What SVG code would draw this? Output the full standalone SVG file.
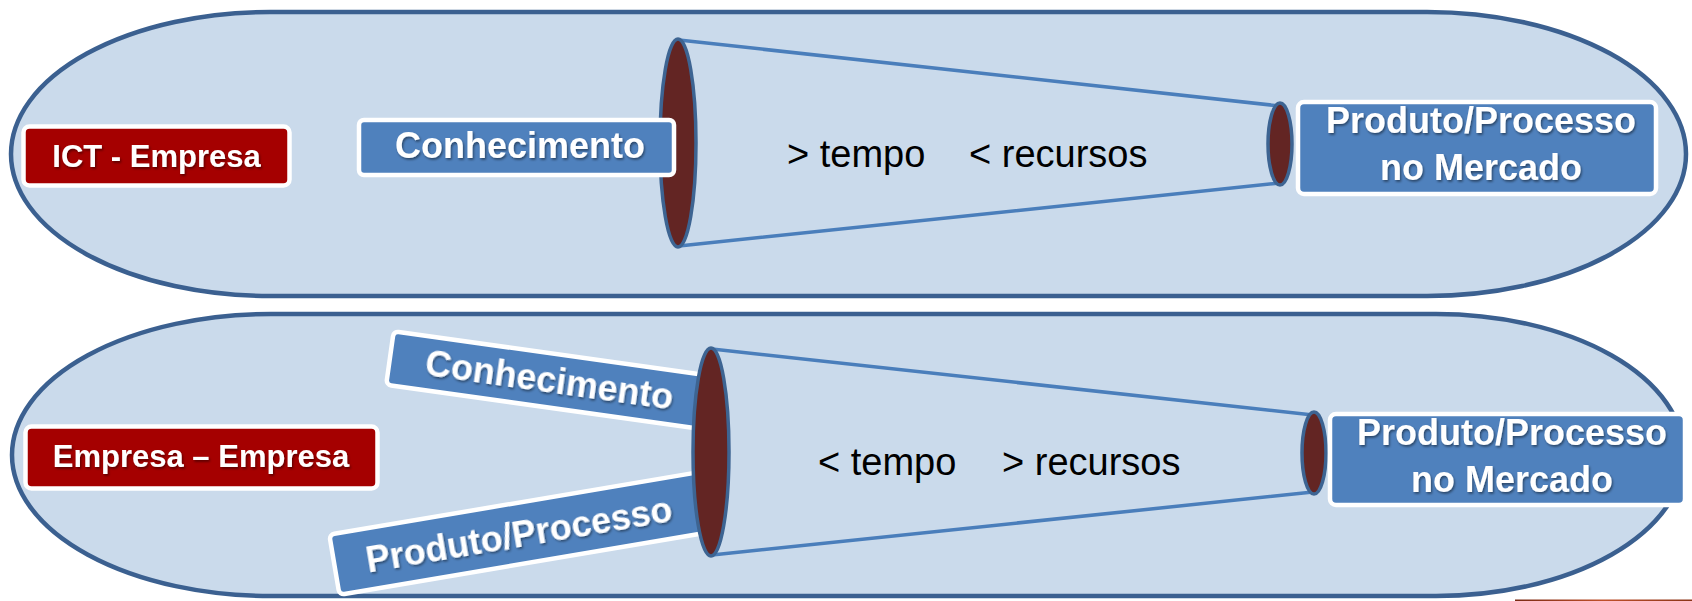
<svg xmlns="http://www.w3.org/2000/svg" width="1692" height="601" viewBox="0 0 1692 601">
<defs>
<filter id="sh" x="-10%" y="-30%" width="120%" height="160%">
<feDropShadow dx="1.2" dy="1.8" stdDeviation="1" flood-color="#000" flood-opacity="0.45"/>
</filter>
<linearGradient id="rl" x1="0" y1="0" x2="1" y2="0">
<stop offset="0" stop-color="#7a2a14"/>
<stop offset="0.5" stop-color="#c0502a"/>
<stop offset="1" stop-color="#8a3418"/>
</linearGradient>
</defs>
<style>
.oval{fill:#cadaeb;stroke:#3b6090;stroke-width:4.5}
.cone{stroke:#4a7ebb;stroke-width:3.5;fill:none;stroke-linecap:round}
.mouth{fill:#632523;stroke:#3d6492;stroke-width:3.5}
.blue{fill:#4f81bd;stroke:#fff;stroke-width:4.5}
.red{fill:#a50000;stroke:#fff;stroke-width:4.5}
.lbl{font-family:"Liberation Sans",Arial,sans-serif;font-weight:bold;fill:#fff;filter:url(#sh)}
.mid{font-family:"Liberation Sans",Arial,sans-serif;font-size:38px;fill:#000}
</style>

<g id="oval-top"><rect class="oval" x="11" y="12" width="1675" height="284" rx="259" ry="142"/></g>
<g id="oval-bottom"><path class="oval" d="M271,314 H1436 A248,141 0 0 1 1436,596 H271 A259,141 0 0 1 271,314 Z"/></g>

<g id="connectors">
<line class="cone" x1="679" y1="40" x2="1280" y2="106"/>
<line class="cone" x1="679" y1="246" x2="1280" y2="183"/>
<line class="cone" x1="712" y1="349" x2="1313" y2="415"/>
<line class="cone" x1="712" y1="555" x2="1313" y2="492"/>
</g>

<g id="box-conhecimento-rot" transform="translate(392,329) rotate(8)">
<rect class="blue" x="2" y="2" width="325" height="54" rx="5"/>
<text class="lbl" x="38" y="41" font-size="36">Conhecimento</text>
</g>
<g id="box-produto-rot" transform="translate(327,533) rotate(-9.6)">
<rect class="blue" x="2" y="2" width="380" height="61" rx="5"/>
<text class="lbl" x="34" y="46" font-size="36">Produto/Processo</text>
</g>

<g id="mouth-top-large"><ellipse class="mouth" cx="678" cy="143" rx="18" ry="104"/></g>
<g id="mouth-top-small"><ellipse class="mouth" cx="1280" cy="144" rx="12" ry="41"/></g>
<g id="mouth-bottom-large"><ellipse class="mouth" cx="711" cy="452" rx="18" ry="104"/></g>
<g id="mouth-bottom-small"><ellipse class="mouth" cx="1314" cy="453" rx="12" ry="41"/></g>

<g id="box-ict">
<rect class="red" x="23.5" y="126.5" width="266" height="59" rx="6"/>
<text class="lbl" x="156.5" y="167" font-size="31" text-anchor="middle">ICT - Empresa</text>
</g>
<g id="box-conhecimento">
<rect class="blue" x="359" y="120" width="315" height="55" rx="5"/>
<text class="lbl" x="520" y="158" font-size="36" text-anchor="middle">Conhecimento</text>
</g>
<g id="label-top">
<text class="mid"><tspan x="787" y="167">&gt; tempo</tspan><tspan x="969" y="167">&lt; recursos</tspan></text>
</g>
<g id="box-produto-top">
<rect class="blue" x="1298" y="102" width="358" height="92" rx="6"/>
<text class="lbl" font-size="36" text-anchor="middle"><tspan x="1481" y="133">Produto/Processo</tspan><tspan x="1481" y="180">no Mercado</tspan></text>
</g>

<g id="box-empresa">
<rect class="red" x="25.5" y="426.5" width="352" height="62" rx="6"/>
<text class="lbl" x="201" y="467" font-size="31" text-anchor="middle">Empresa – Empresa</text>
</g>
<g id="label-bottom">
<text class="mid"><tspan x="818" y="475">&lt; tempo</tspan><tspan x="1002" y="475">&gt; recursos</tspan></text>
</g>
<g id="box-produto-bottom">
<rect class="blue" x="1330" y="414" width="355" height="91" rx="6"/>
<text class="lbl" font-size="36" text-anchor="middle"><tspan x="1512" y="445">Produto/Processo</tspan><tspan x="1512" y="492">no Mercado</tspan></text>
</g>

<rect x="1515" y="599.5" width="177" height="1.5" fill="url(#rl)"/>
</svg>
